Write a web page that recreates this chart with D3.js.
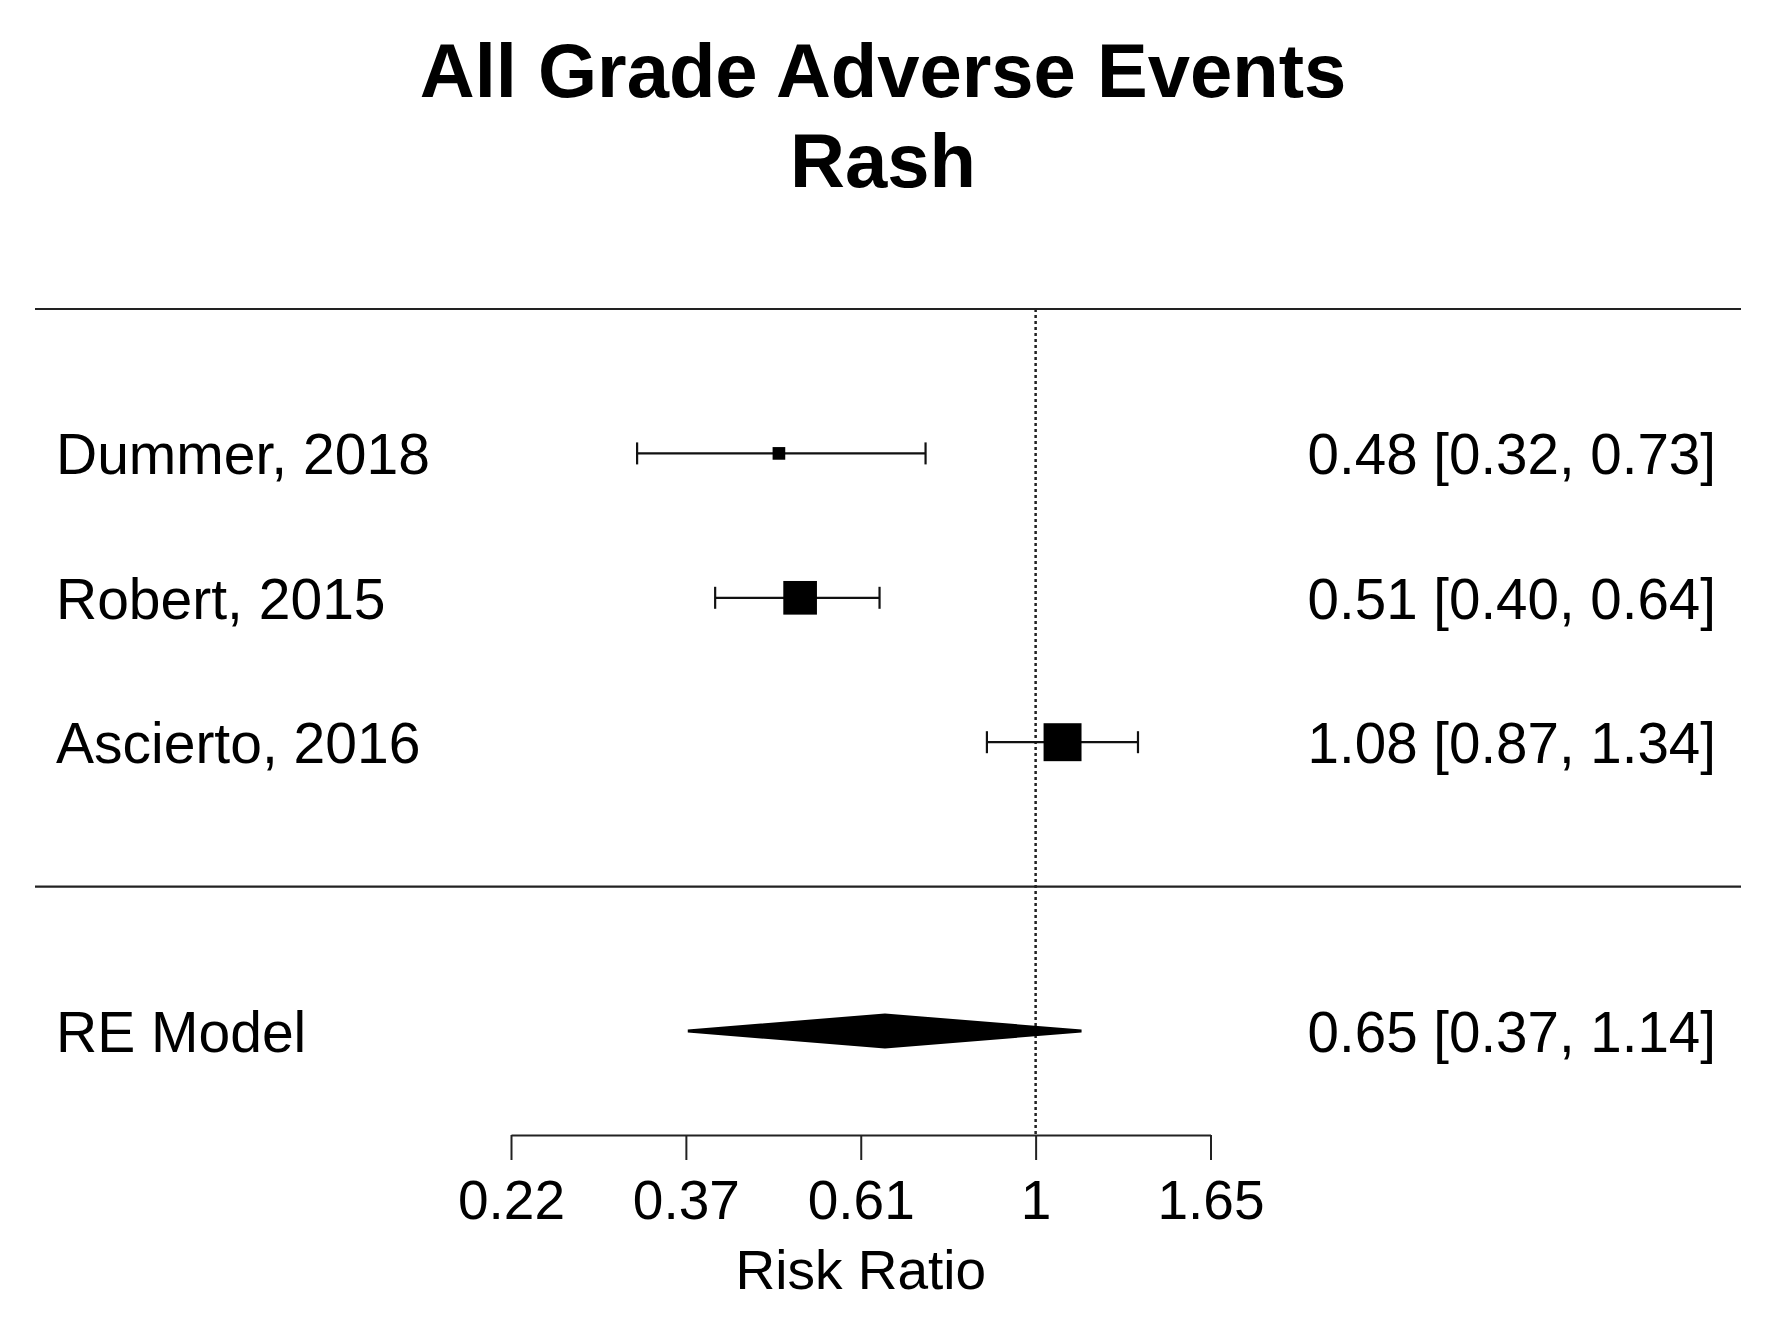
<!DOCTYPE html>
<html>
<head>
<meta charset="utf-8">
<script src="https://cdn.jsdelivr.net/npm/d3@7"></script>
<style>
    body { margin: 0; background: #fff; }
    svg { display: block; font-family: "Liberation Sans", Arial, sans-serif; }
</style>
</head>
<body>
<svg id="chart" width="1784" height="1321"></svg>
<script>
'use strict';

// study data (risk ratios with 95% CI)
const studies = ['Dummer, 2018', 'Robert, 2015', 'Ascierto, 2016'];
const estimates = [0.48, 0.51, 1.08];
const lower = [0.32, 0.40, 0.87];
const upper = [0.73, 0.64, 1.34];
const annotations = ['0.48 [0.32, 0.73]', '0.51 [0.40, 0.64]', '1.08 [0.87, 1.34]'];

// random effects summary
const summaryLabel = 'RE Model';
const summary = { est: 0.65, lb: 0.37, ub: 1.14 };
const summaryText = '0.65 [0.37, 1.14]';

// axis ticks (log scale, exp(-1.5) .. exp(0.5))
const tickLogs = [-1.5, -1, -0.5, 0, 0.5];
const tickLabels = ['0.22', '0.37', '0.61', '1', '1.65'];

const titleLines = ['All Grade Adverse Events', 'Rash'];
const xLabel = 'Risk Ratio';

const svg = d3.select('#chart');

const x = d3.scaleLog()
    .domain([Math.exp(-1.5), Math.exp(0.5)])
    .range([511, 1210.5]);

// forest rows: k..1 for studies, 0 = separator, -1 = summary
const y = d3.scaleLinear()
    .domain([4, -1])
    .range([309, 1031]);

const leftX = 35;
const rightX = 1741;
const fontSize = 57;
const textShift = 21;

// title
svg.append('g')
    .selectAll('text')
    .data(titleLines)
    .enter().append('text')
    .attr('x', 883)
    .attr('y', (d, i) => 97 + i * 90)
    .attr('text-anchor', 'middle')
    .attr('font-size', 76)
    .attr('font-weight', 'bold')
    .text((d) => d);

// horizontal lines at top and above summary
svg.append('g')
    .selectAll('line')
    .data([4, 0])
    .enter().append('line')
    .attr('x1', leftX)
    .attr('x2', rightX)
    .attr('y1', (d) => y(d))
    .attr('y2', (d) => y(d))
    .attr('stroke', '#222')
    .attr('stroke-width', 2.2);

// reference line at RR = 1
svg.append('line')
    .attr('x1', x(1))
    .attr('x2', x(1))
    .attr('y1', y(4))
    .attr('y2', 1135)
    .attr('stroke', '#222')
    .attr('stroke-width', 2.5)
    .attr('stroke-dasharray', '3,3');

// point sizes as in metafor: linear in 1/se, scaled to 0.5 .. 1.5
const precision = studies.map((s, i) => 1 / ((Math.log(upper[i]) - Math.log(lower[i])) / (2 * 1.96)));
const psize = d3.scaleLinear()
    .domain(d3.extent(precision))
    .range([0.5, 1.5]);
const baseSize = 25.3;

const rows = studies.map((s, i) => ({
    label: s,
    est: estimates[i],
    lb: lower[i],
    ub: upper[i],
    text: annotations[i],
    row: studies.length - i,
    size: psize(precision[i]) * baseSize
}));

const studyG = svg.append('g');

const rowG = studyG.selectAll('g.study')
    .data(rows)
    .enter().append('g')
    .attr('class', 'study');

rowG.append('line')
    .attr('x1', (d) => x(d.lb))
    .attr('x2', (d) => x(d.ub))
    .attr('y1', (d) => y(d.row))
    .attr('y2', (d) => y(d.row))
    .attr('stroke', '#111')
    .attr('stroke-width', 2.2);

// whisker caps
['lb', 'ub'].forEach((k) => {
    rowG.append('line')
        .attr('x1', (d) => x(d[k]))
        .attr('x2', (d) => x(d[k]))
        .attr('y1', (d) => y(d.row) - 11)
        .attr('y2', (d) => y(d.row) + 11)
        .attr('stroke', '#111')
        .attr('stroke-width', 2.2);
});

rowG.append('rect')
    .attr('x', (d) => x(d.est) - d.size / 2)
    .attr('y', (d) => y(d.row) - d.size / 2)
    .attr('width', (d) => d.size)
    .attr('height', (d) => d.size)
    .attr('fill', '#000');

rowG.append('text')
    .attr('x', 56)
    .attr('y', (d) => y(d.row) + textShift)
    .attr('font-size', fontSize)
    .text((d) => d.label);

rowG.append('text')
    .attr('x', 1716)
    .attr('y', (d) => y(d.row) + textShift)
    .attr('text-anchor', 'end')
    .attr('font-size', 56.5)
    .text((d) => d.text);

// summary diamond
const sy = y(-1);
const halfH = 16;
svg.append('polygon')
    .attr('points', [
        [x(summary.lb), sy],
        [x(summary.est), sy - halfH],
        [x(summary.ub), sy],
        [x(summary.est), sy + halfH]
    ].join(' '))
    .attr('fill', '#000')
    .attr('stroke', '#000')
    .attr('stroke-width', 3);

svg.append('text')
    .attr('x', 56)
    .attr('y', sy + textShift)
    .attr('font-size', fontSize)
    .text(summaryLabel);

svg.append('text')
    .attr('x', 1716)
    .attr('y', sy + textShift)
    .attr('text-anchor', 'end')
    .attr('font-size', 56.5)
    .text(summaryText);

// x axis
const axis = d3.axisBottom(x)
    .tickValues(tickLogs.map(Math.exp))
    .tickFormat((d, i) => tickLabels[i])
    .tickSize(25)
    .tickSizeOuter(0)
    .tickPadding(20);

const axisG = svg.append('g')
    .attr('transform', 'translate(0,1135)')
    .call(axis);

axisG.select('.domain')
    .attr('stroke', '#222')
    .attr('stroke-width', 2);
axisG.selectAll('.tick line')
    .attr('stroke', '#222')
    .attr('stroke-width', 2);
axisG.selectAll('.tick text')
    .attr('font-size', 55)
    .attr('font-family', '"Liberation Sans", Arial, sans-serif')
    .attr('fill', '#000');

svg.append('text')
    .attr('x', (x.range()[0] + x.range()[1]) / 2)
    .attr('y', 1289)
    .attr('text-anchor', 'middle')
    .attr('font-size', 55)
    .text(xLabel);
</script>
</body>
</html>
